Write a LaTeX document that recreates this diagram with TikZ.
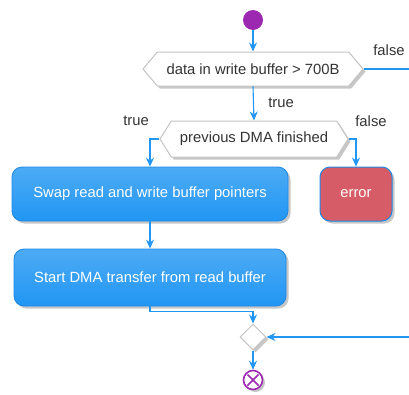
\documentclass[tikz,border=0pt]{standalone}
\usepackage{fontspec}
\setmainfont{Liberation Sans}
\usetikzlibrary{shapes.symbols,shapes.geometric,shadows,arrows.meta,calc}
\definecolor{flow}{HTML}{2196F3}
\definecolor{stepedge}{HTML}{1E88E5}
\definecolor{steptop}{HTML}{4DABF5}
\definecolor{stepbot}{HTML}{2196F3}
\definecolor{errfill}{HTML}{D65C67}
\definecolor{terminal}{HTML}{9C27B0}
\definecolor{guardgray}{HTML}{C4C4C4}
\definecolor{labelgray}{HTML}{333333}
\tikzset{
  txt/.style={font=\fontsize{14.8}{17}\selectfont},
  softshadow/.style={drop shadow={shadow xshift=2.5pt, shadow yshift=-2.5pt, opacity=0.22, fill=black}},
  flowline/.style={draw=flow, line width=1.1pt, -{Stealth[length=9pt,width=8pt,inset=3pt]}},
  plainline/.style={draw=flow, line width=1.1pt},
  action/.style={rectangle, rounded corners=10pt, draw=stepedge, line width=0.8pt,
    top color=steptop, bottom color=stepbot, text=white, txt, softshadow, inner sep=0pt},
  failbox/.style={rectangle, rounded corners=10pt, draw=stepedge, line width=1pt,
    fill=errfill, text=white, txt, softshadow, inner sep=0pt},
  guard/.style={signal, signal to=west and east, draw=guardgray, line width=1pt,
    fill=white, text=labelgray, txt, softshadow, inner sep=0pt},
  branchlabel/.style={text=labelgray, txt, inner sep=0pt},
  startdot/.style={circle, fill=terminal, minimum size=20pt, inner sep=0pt},
  stopdot/.style={circle, draw=terminal, line width=1.6pt, fill=white, minimum size=19pt, inner sep=0pt, softshadow},
  merge/.style={diamond, draw=guardgray, line width=1pt, fill=white, minimum size=26pt, inner sep=0pt, softshadow},
}
\begin{document}
\begin{tikzpicture}[x=1pt, y=-1pt]
  \useasboundingbox (0,0) rectangle (409,394);

  % nodes
  \node[startdot] (start) at (253,20) {};
  \node[guard, signal pointer angle=100, minimum width=220pt, minimum height=34pt] (hexa) at (253,69) {data in write buffer > 700B};
  \node[guard, signal pointer angle=116, minimum width=188pt, minimum height=36pt] (hexb) at (254,139) {previous DMA finished};
  \node[action, minimum width=276pt, minimum height=54pt] (swap) at (150,194) {Swap read and write buffer pointers};
  \node[failbox, minimum width=72pt, minimum height=54pt] (err) at (356,194) {error};
  \node[action, minimum width=272pt, minimum height=57pt] (dma) at (150,277.5) {Start DMA transfer from read buffer};
  \node[merge] (join) at (253,337) {};
  \node[stopdot] (stop) at (253,380) {};
  \draw[terminal, line width=1.6pt] ($(stop.center)+(-5.5,-5.5)$) -- ($(stop.center)+(5.5,5.5)$)
                                    ($(stop.center)+(-5.5,5.5)$) -- ($(stop.center)+(5.5,-5.5)$);

  % branch labels
  \node[branchlabel] (lfalsea) at (389,50) {false};
  \node[branchlabel] (ltruea) at (281,103) {true};
  \node[branchlabel] (ltrueb) at (136,121) {true};
  \node[branchlabel] (lfalseb) at (371,121) {false};

  % free ends at the right border
  \coordinate (exitR) at (409,69);
  \coordinate (entryR) at (409,337);

  % connectors
  \draw[flowline] (start) -- (hexa.north);
  \draw[plainline] (hexa.east) -- (exitR);
  \draw[flowline] (hexa.south) -- (hexb.north);
  \draw[flowline] (hexb.west) -| (swap.north);
  \draw[flowline] (hexb.east) -| (err.north);
  \draw[flowline] (swap.south) -- (dma.north);
  \draw[flowline] (dma.south) -- ++(0,5) -| (join.north);
  \draw[flowline] (entryR) -- (join.east);
  \draw[flowline] (join.south) -- (stop.north);
\end{tikzpicture}
\end{document}
